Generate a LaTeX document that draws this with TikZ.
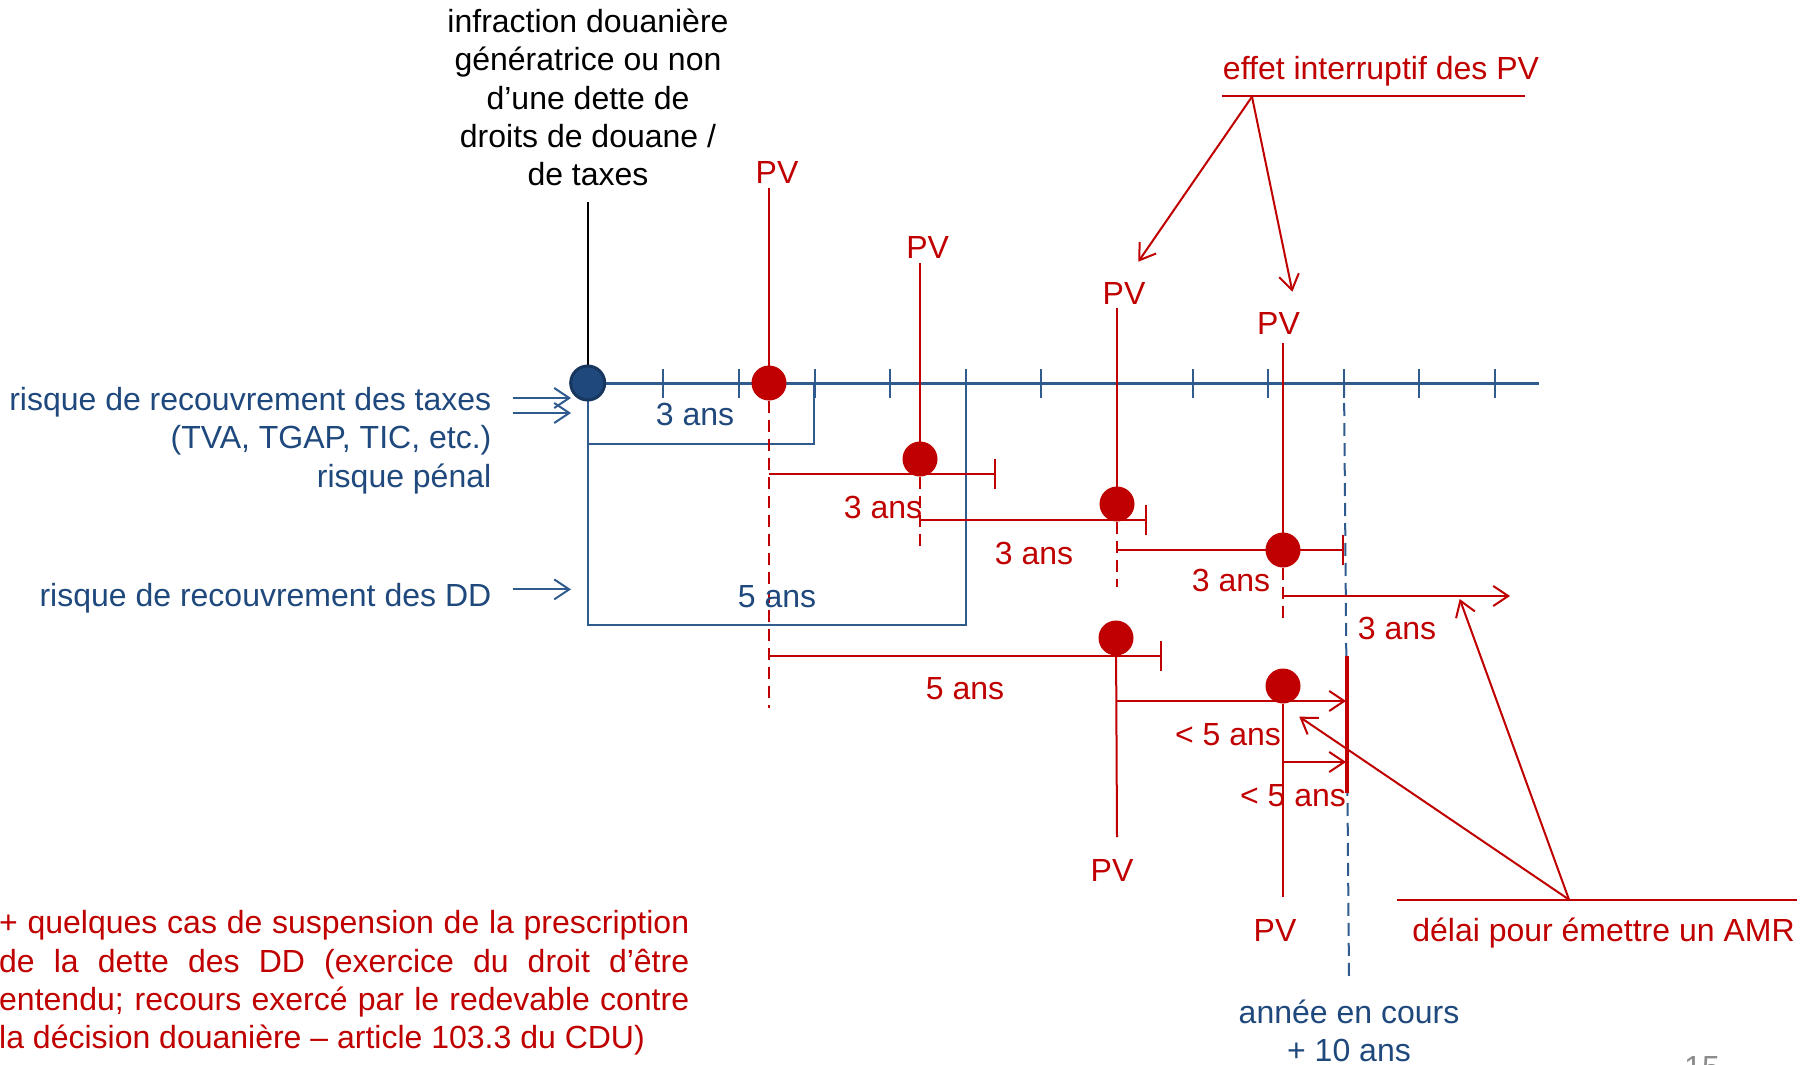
\documentclass[tikz,border=0pt]{standalone}
\usepackage{fontspec}
\setmainfont{Liberation Sans}
\usetikzlibrary{arrows.meta}
\definecolor{rd}{HTML}{C00000}
\definecolor{bl}{HTML}{1F497D}
\definecolor{ax}{HTML}{2F5B8F}
\definecolor{dotfill}{HTML}{1F497D}
\definecolor{dotborder}{HTML}{17375E}
\definecolor{pgnum}{HTML}{8C8C8C}
\pgfdeclarelayer{bg}
\pgfsetlayers{bg,main}
\begin{document}
\begin{tikzpicture}[x=1pt,y=-1pt,
  txt/.style={inner sep=0pt,font=\fontsize{32}{38.4}\selectfont},
  redtxt/.style={txt,text=rd},
  bluetxt/.style={txt,text=bl},
  rline/.style={draw=rd,line width=2pt},
  rdash/.style={draw=rd,line width=2pt,dash pattern=on 12pt off 7pt},
  bline/.style={draw=ax,line width=2pt},
  bdash/.style={draw=ax,line width=2pt,dash pattern=on 13pt off 7pt},
  barb/.style={-{Straight Barb[length=15pt,width=20pt]}},
  endbar/.style={-{Bar[width=30pt]}},
  rdot/.style={circle,fill=rd,minimum size=35pt,inner sep=0pt},
  bdot/.style={circle,fill=dotfill,draw=dotborder,line width=3pt,minimum size=34pt,inner sep=0pt},
]
\clip (0,0) rectangle (1805,1065);

% ---------- dots ----------
\node[bdot] (d0) at (587.7,383) {};
\node[rdot] (r1) at (769,383) {};
\node[rdot] (r2) at (920,459) {};
\node[rdot] (r3) at (1117,504) {};
\node[rdot] (r4) at (1283,550) {};
\node[rdot] (r5) at (1116,638) {};
\node[rdot] (r6) at (1283,686) {};

% ---------- texts ----------
\node[txt,align=center] (inf) at (588,97.5) {infraction douanière\\génératrice ou non\\d’une dette de\\droits de douane /\\de taxes};
\node[bluetxt,align=right,anchor=east] (lt) at (491.5,440.5) {risque de recouvrement des taxes\\(TVA, TGAP, TIC, etc.)\\risque pénal};
\node[bluetxt,anchor=east] (ldd) at (491.5,598.5) {risque de recouvrement des DD};
\node[bluetxt] (b3lab) at (695,414) {3 ans};
\node[bluetxt] (b5lab) at (777,597) {5 ans};

\node[redtxt] (pv1) at (777,172.5) {PV};
\node[redtxt] (pv2) at (927.7,247.5) {PV};
\node[redtxt] (pv3) at (1124,293.5) {PV};
\node[redtxt] (pv4) at (1278.5,323) {PV};
\node[redtxt] (pv5) at (1112,870) {PV};
\node[redtxt] (pv6) at (1275,930) {PV};

\node[redtxt] (l1) at (883,507) {3 ans};
\node[redtxt] (l2) at (1034,553) {3 ans};
\node[redtxt] (l3) at (1231,580) {3 ans};
\node[redtxt] (l4) at (1397,628) {3 ans};
\node[redtxt] (l5) at (965,688.5) {5 ans};
\node[redtxt] (l6) at (1228,735) {< 5 ans};
\node[redtxt] (l7) at (1293,796) {< 5 ans};

\node[redtxt] (effet) at (1381,71.5) {effet interruptif des PV};
\node[redtxt] (amr) at (1603.5,933.5) {délai pour émettre un AMR};
\node[bluetxt,align=center] (annee) at (1349,1031) {année en cours\\+ 10 ans};
\node[redtxt,anchor=west,align=left] (para) at (-1,983) {\makebox[690pt][s]{+ quelques cas de suspension de la prescription}\\\makebox[690pt][s]{de la dette des DD (exercice du droit d’être}\\\makebox[690pt][s]{entendu; recours exercé par le redevable contre}\\la décision douanière – article 103.3 du CDU)};
\node[txt,text=pgnum] (page) at (1702,1068) {15};

% ---------- coordinates ----------
\coordinate (axend) at (1539,383);
\coordinate (blk) at (587.7,202);
\coordinate (box3a) at (587.7,444);
\coordinate (box3b) at (814.3,444);
\coordinate (box3c) at (814.3,383);
\coordinate (box5a) at (587.7,625);
\coordinate (box5b) at (965.7,625);
\coordinate (box5c) at (965.7,383);
\coordinate (t1) at (769,188);
\coordinate (t2) at (920,263);
\coordinate (t3) at (1117,308);
\coordinate (t4) at (1283,343);
\coordinate (e1) at (769,708);
\coordinate (e2) at (920,547);
\coordinate (e3) at (1117,587);
\coordinate (e4) at (1283,618);
\coordinate (e5) at (1117,837);
\coordinate (e6) at (1283,897);
\coordinate (b1s) at (769,474);   \coordinate (b1e) at (996,474);
\coordinate (b2s) at (920,520);   \coordinate (b2e) at (1147,520);
\coordinate (b3s) at (1117,550);  \coordinate (b3e) at (1344,550);
\coordinate (b4s) at (1283,596);  \coordinate (b4e) at (1510,596);
\coordinate (b5s) at (769,656);   \coordinate (b5e) at (1162,656);
\coordinate (b6s) at (1117,701);  \coordinate (b6e) at (1346,701);
\coordinate (b7s) at (1283,762);  \coordinate (b7e) at (1346,762);
\coordinate (thA) at (1347,656);  \coordinate (thB) at (1347,793);
\coordinate (bdA) at (1344,383);  \coordinate (bdB) at (1349,977);
\coordinate (la1s) at (512.6,398);   \coordinate (la1e) at (571,398);
\coordinate (la2s) at (512.6,413);   \coordinate (la2e) at (571,413);
\coordinate (la3s) at (512.6,589.4); \coordinate (la3e) at (571,589.4);
\coordinate (efL) at (1222,96);  \coordinate (efR) at (1525,96);
\coordinate (efA) at (1252,96.7);
\coordinate (efT1) at (1138.3,261.7);
\coordinate (efT2) at (1292.4,291.7);
\coordinate (amL) at (1397,899.6); \coordinate (amR) at (1797,899.6);
\coordinate (amA) at (1569,899.6);
\coordinate (amT1) at (1299.3,716.7);
\coordinate (amT2) at (1459.7,599);

\begin{pgfonlayer}{bg}
  \fill[white] (0,0) rectangle (1805,1065);
  % axis and ticks
  \draw[draw=ax,line width=3pt] (d0.center) -- (axend);
  \foreach \i in {1,...,12} \draw[bline] ({587.7+75.6*\i},369) -- ({587.7+75.6*\i},398);
  % black line
  \draw[black,line width=2pt] (blk) -- (d0.center);
  % blue boxes
  \draw[bline] (d0.center) -- (box3a) -- (box3b) -- (box3c);
  \draw[bline] (box3a) -- (box5a) -- (box5b) -- (box5c);
  % blue dashed "annee en cours"
  \draw[bdash] (bdA) -- (bdB);
  % left arrows
  \draw[bline,barb] (la1s) -- (la1e);
  \draw[bline,barb] (la2s) -- (la2e);
  \draw[bline,barb] (la3s) -- (la3e);
  % PV lines
  \draw[rline] (t1) -- (r1.center);
  \draw[rline] (t2) -- (r2.center);
  \draw[rline] (t3) -- (r3.center);
  \draw[rline] (t4) -- (r4.center);
  \draw[rdash] (r1.south) -- (e1);
  \draw[rdash] (r2.south) -- (e2);
  \draw[rdash] (r3.south) -- (e3);
  \draw[rdash] (r4.south) -- (e4);
  \draw[rline] (r5.center) -- (e5);
  \draw[rline] (r6.south) -- (e6);
  % bars
  \draw[rline,endbar] (b1s) -- (b1e);
  \draw[rline,endbar] (b2s) -- (b2e);
  \draw[rline,endbar] (b3s) -- (b3e);
  \draw[rline,barb] (b4s) -- (b4e);
  \draw[rline,endbar] (b5s) -- (b5e);
  \draw[rline,barb] (b6s) -- (b6e);
  \draw[rline,barb] (b7s) -- (b7e);
  \draw[draw=rd,line width=4.5pt] (thA) -- (thB);
  % effet interruptif
  \draw[rline] (efL) -- (efR);
  \draw[rline,barb] (efA) -- (efT1);
  \draw[rline,barb] (efA) -- (efT2);
  % AMR
  \draw[rline] (amL) -- (amR);
  \draw[rline,barb] (amA) -- (amT1);
  \draw[rline,barb] (amA) -- (amT2);
\end{pgfonlayer}
\end{tikzpicture}
\end{document}
